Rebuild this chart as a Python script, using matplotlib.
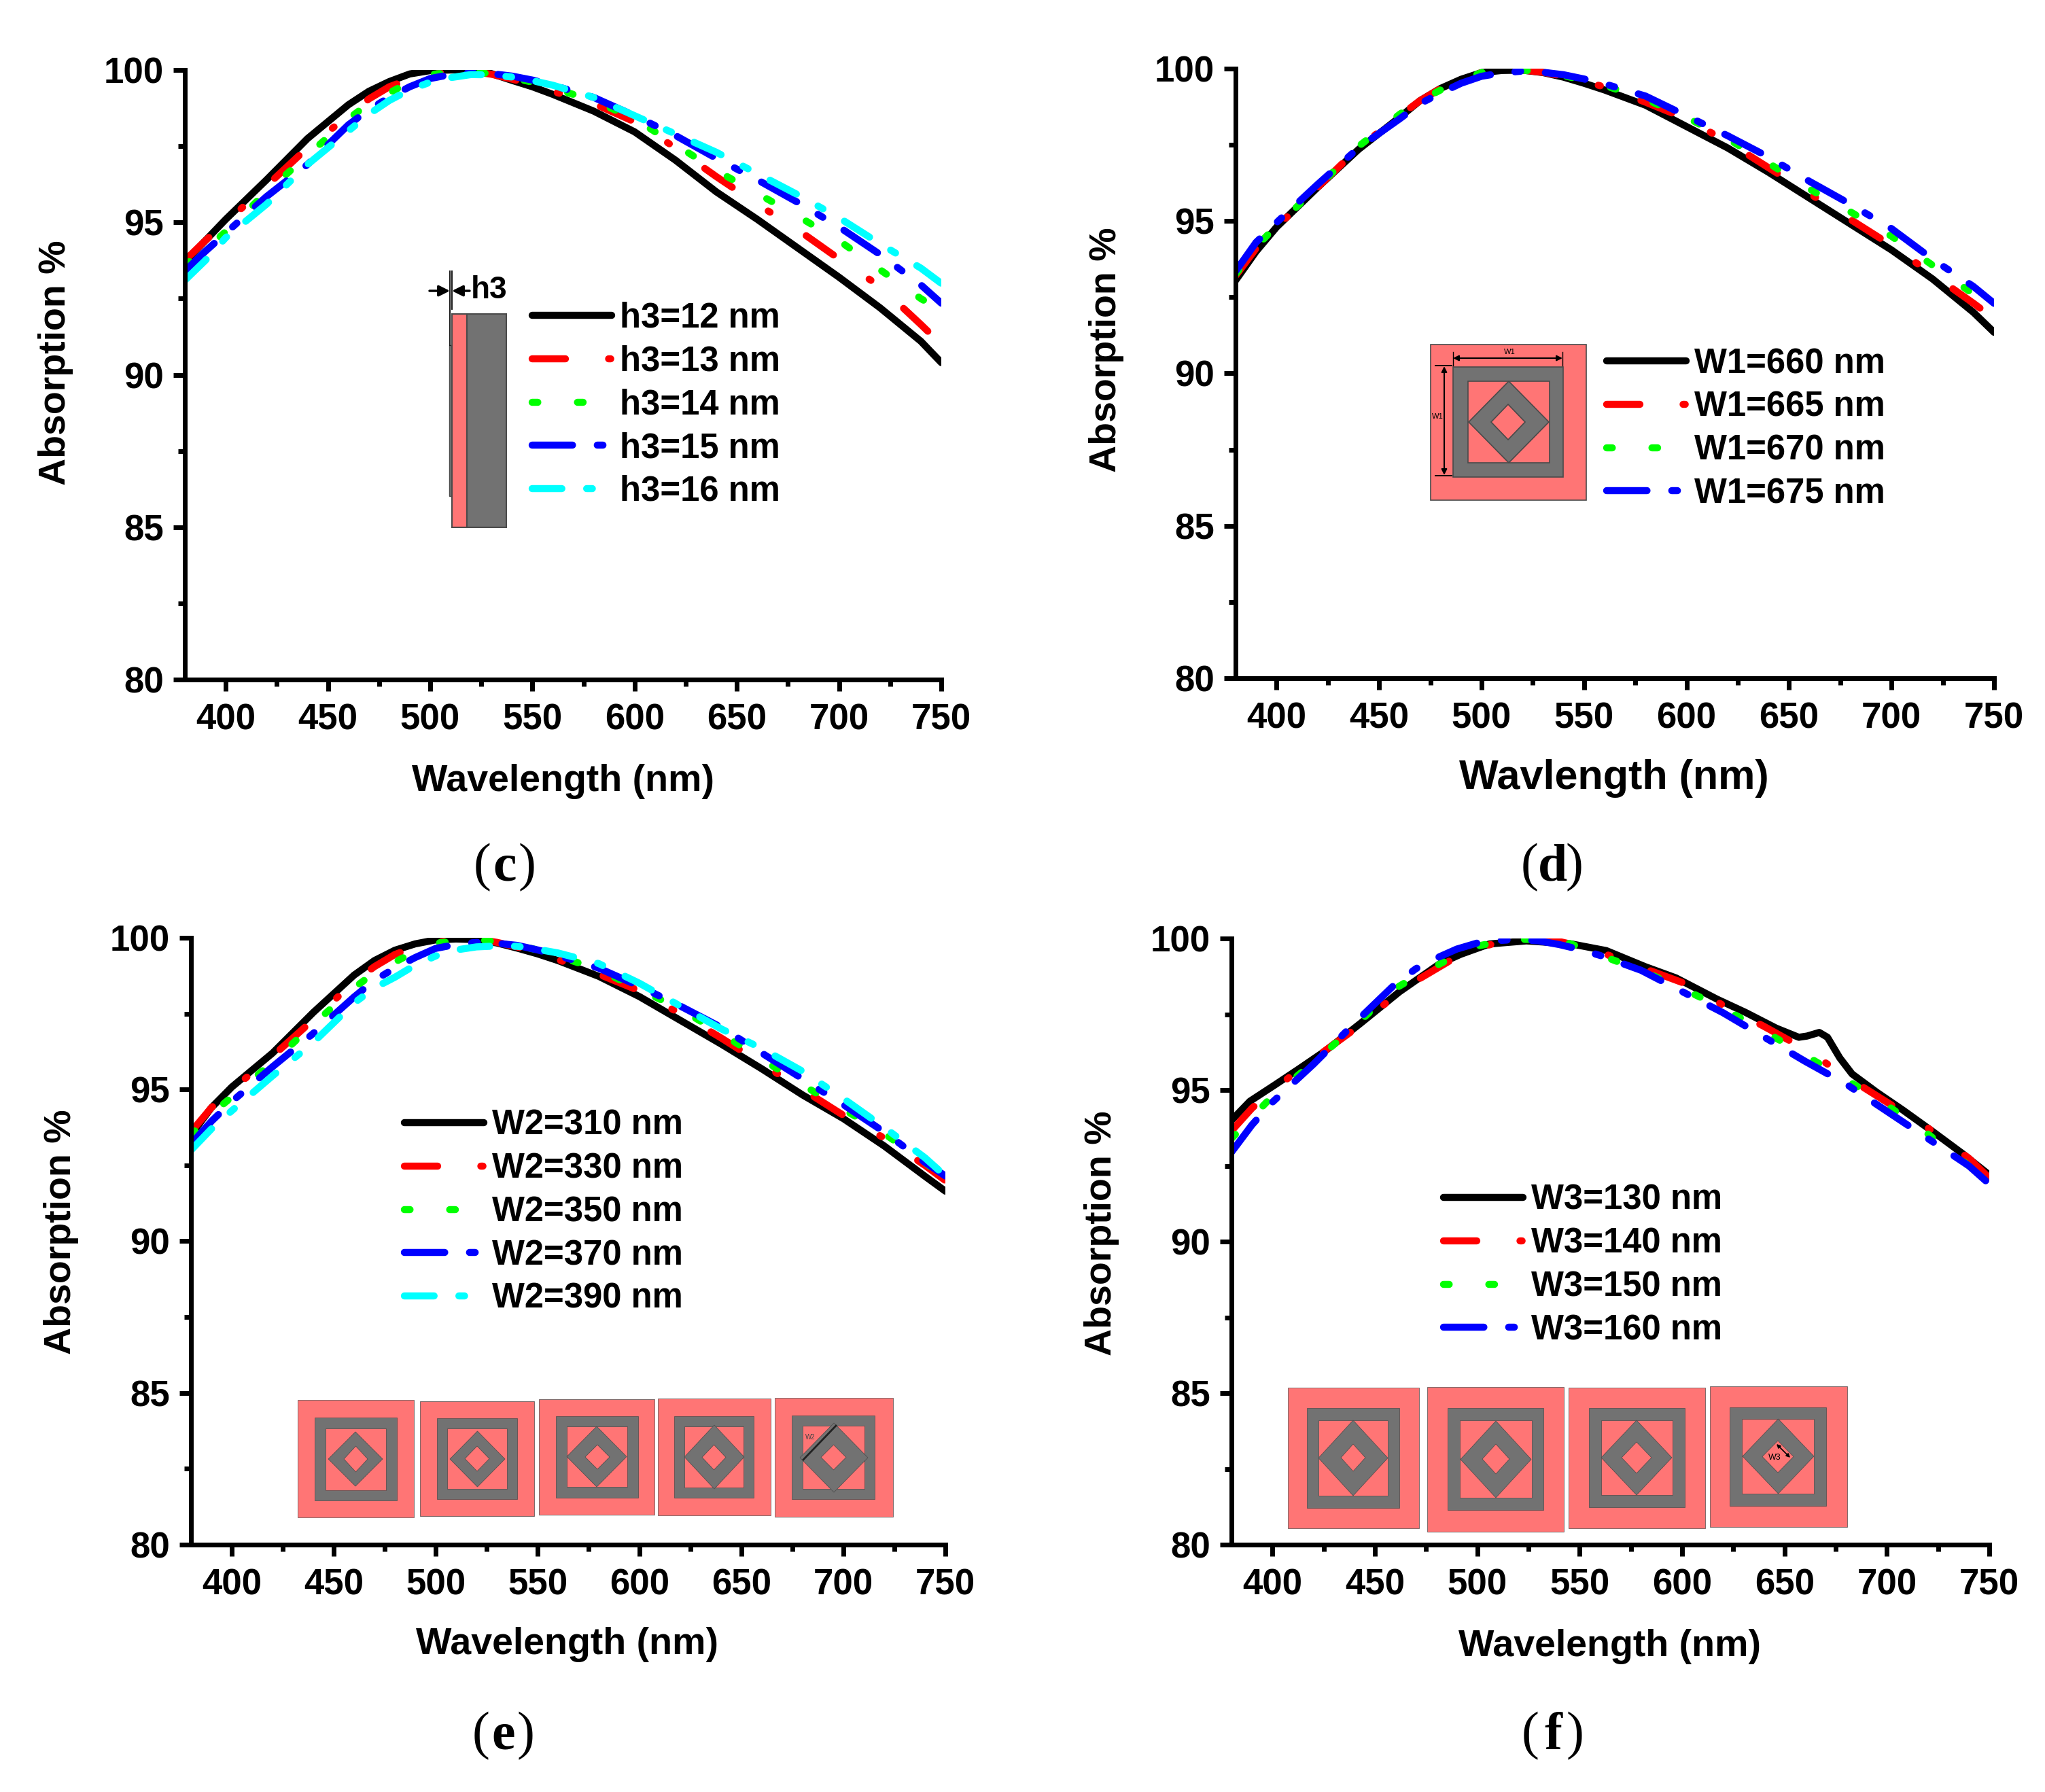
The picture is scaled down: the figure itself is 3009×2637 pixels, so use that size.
"""Absorption spectra, panels c to f"""

import matplotlib
matplotlib.use("Agg")
import matplotlib.pyplot as plt
from matplotlib.patches import Polygon, Rectangle

W, H = 3009, 2637
plt.rcParams['font.family'] = ['Liberation Sans', 'DejaVu Sans']
plt.rcParams['font.weight'] = 'bold'

SALMON = '#FF7575'
GREY = '#727272'
EDGE = '#4A4A4A'

nm = [380, 390, 400, 420, 440, 460, 470, 480, 490, 500, 510, 520, 530, 540, 550, 560, 580, 600, 620, 640, 660, 680, 700, 720, 740, 750]

h3_labels = ['h3=12 nm', 'h3=13 nm', 'h3=14 nm', 'h3=15 nm', 'h3=16 nm']
h3_12 = [93.7, 94.4, 95.1, 96.4, 97.75, 98.86, 99.3, 99.62, 99.87, 99.98, 100, 100, 99.88, 99.66, 99.45, 99.2, 98.65, 97.97, 97.04, 96.0, 95.1, 94.15, 93.2, 92.2, 91.1, 90.4]
h3_13 = [93.75, 94.4, 95.0, 96.2, 97.45, 98.5, 99.05, 99.45, 99.7, 99.87, 99.94, 99.96, 99.86, 99.7, 99.52, 99.3, 98.9, 98.3, 97.45, 96.5, 95.6, 94.75, 93.8, 92.9, 91.65, 91.0]
h3_14 = [93.6, 94.1, 94.7, 96.0, 97.2, 98.4, 98.9, 99.25, 99.6, 99.85, 99.92, 99.95, 99.87, 99.75, 99.6, 99.4, 99.0, 98.4, 97.55, 96.7, 95.95, 95.2, 94.4, 93.45, 92.5, 92.1]
h3_15 = [93.4, 94.05, 94.65, 95.85, 96.9, 98.2, 98.7, 99.1, 99.45, 99.72, 99.85, 99.92, 99.88, 99.8, 99.67, 99.5, 99.1, 98.5, 97.85, 97.1, 96.4, 95.65, 94.85, 93.95, 92.95, 92.35]
h3_16 = [93.1, 93.75, 94.5, 95.6, 96.9, 98.0, 98.55, 99.0, 99.35, 99.6, 99.75, 99.85, 99.84, 99.77, 99.65, 99.5, 99.1, 98.5, 97.9, 97.3, 96.6, 95.9, 95.15, 94.3, 93.5, 93.0]

w1_labels = ['W1=660 nm', 'W1=665 nm', 'W1=670 nm', 'W1=675 nm']
w1_660 = [93.05, 94.0, 94.8, 96.1, 97.35, 98.4, 98.95, 99.35, 99.65, 99.87, 99.94, 99.95, 99.87, 99.72, 99.52, 99.3, 98.8, 98.1, 97.4, 96.6, 95.75, 94.9, 94.05, 93.1, 92.0, 91.35]
w1_665 = [93.2, 94.1, 94.8, 96.1, 97.4, 98.45, 98.95, 99.35, 99.65, 99.87, 99.94, 99.95, 99.88, 99.75, 99.58, 99.4, 98.9, 98.35, 97.6, 96.75, 95.9, 95.05, 94.2, 93.25, 92.3, 91.8]
w1_670 = [93.25, 94.15, 94.85, 96.1, 97.45, 98.5, 98.95, 99.3, 99.62, 99.87, 99.94, 99.95, 99.89, 99.77, 99.62, 99.45, 99.0, 98.4, 97.7, 96.9, 96.05, 95.3, 94.5, 93.55, 92.6, 92.1]
w1_675 = [93.35, 94.3, 94.95, 96.2, 97.4, 98.35, 98.85, 99.2, 99.52, 99.75, 99.86, 99.92, 99.88, 99.8, 99.66, 99.5, 99.1, 98.45, 97.8, 97.1, 96.3, 95.55, 94.75, 93.75, 92.85, 92.3]

w2_labels = ['W2=310 nm', 'W2=330 nm', 'W2=350 nm', 'W2=370 nm', 'W2=390 nm']
w2_310 = [93.5, 94.4, 95.08, 96.2, 97.54, 98.77, 99.25, 99.59, 99.8, 99.93, 99.96, 99.94, 99.83, 99.66, 99.47, 99.25, 98.73, 98.06, 97.28, 96.5, 95.68, 94.82, 94.04, 93.14, 92.14, 91.65]
w2_330 = [93.6, 94.4, 95.0, 96.1, 97.3, 98.55, 99.05, 99.45, 99.7, 99.85, 99.93, 99.96, 99.85, 99.7, 99.5, 99.28, 98.8, 98.25, 97.5, 96.7, 95.85, 95.0, 94.15, 93.4, 92.5, 92.0]
w2_350 = [93.5, 94.2, 94.75, 95.9, 97.15, 98.35, 98.85, 99.2, 99.55, 99.82, 99.9, 99.95, 99.87, 99.75, 99.6, 99.4, 98.95, 98.3, 97.65, 96.85, 96.0, 95.15, 94.35, 93.55, 92.6, 92.05]
w2_370 = [93.2, 93.95, 94.6, 95.75, 96.85, 98.05, 98.6, 99.0, 99.35, 99.65, 99.78, 99.85, 99.82, 99.75, 99.6, 99.42, 99.0, 98.4, 97.75, 97.05, 96.2, 95.35, 94.5, 93.6, 92.6, 92.15]
w2_390 = [93.0, 93.7, 94.3, 95.45, 96.55, 97.85, 98.35, 98.7, 99.1, 99.4, 99.6, 99.7, 99.73, 99.72, 99.62, 99.5, 99.15, 98.5, 97.75, 97.0, 96.35, 95.6, 94.7, 93.75, 92.75, 92.15]

w3_labels = ['W3=130 nm', 'W3=140 nm', 'W3=150 nm', 'W3=160 nm']
# the 130 nm curve has its own wavelengths because of the bump near 665 nm
nm_w3_130 = [380, 389, 401, 413, 426, 443, 462, 482, 492, 506, 524, 546, 563, 582, 597, 617, 631, 646, 657, 661, 667, 671, 677, 683, 695, 708, 722, 737, 750]
w3_130 = [94.0, 94.63, 95.16, 95.7, 96.3, 97.2, 98.24, 99.18, 99.48, 99.82, 99.92, 99.82, 99.6, 99.07, 98.7, 98.0, 97.56, 97.04, 96.74, 96.78, 96.9, 96.74, 96.06, 95.53, 94.93, 94.33, 93.65, 92.9, 92.2]
w3_140 = [93.65, 94.4, 95.0, 96.02, 97.0, 98.13, 98.6, 99.0, 99.4, 99.7, 99.85, 99.93, 99.94, 99.9, 99.75, 99.55, 99.05, 98.55, 97.8, 97.1, 96.35, 95.45, 94.6, 93.75, 92.75, 92.1]
w3_150 = [93.4, 94.1, 94.8, 95.9, 97.1, 98.35, 98.75, 99.1, 99.45, 99.75, 99.88, 99.97, 99.97, 99.95, 99.72, 99.45, 98.95, 98.35, 97.7, 96.95, 96.15, 95.35, 94.5, 93.55, 92.5, 92.0]
w3_160 = [92.95, 93.85, 94.6, 95.85, 97.2, 98.5, 99.0, 99.35, 99.65, 99.85, 99.93, 99.97, 99.92, 99.8, 99.64, 99.44, 98.95, 98.25, 97.55, 96.75, 95.95, 95.2, 94.3, 93.4, 92.5, 91.9]

colors = ['black', 'red', '#00FF00', 'blue', 'cyan']
dashes = [None, (4.7, 6.1, 0.3, 6.1), (0.8, 5.6), (5.7, 3.5, 0.8, 3.5), (4.2, 3.5, 0.8, 3.5)]

fig = plt.figure(figsize=(W / 100, H / 100), dpi=100, facecolor='white')
over = fig.add_axes([0, 0, 1, 1], zorder=5)
over.set_xlim(0, W)
over.set_ylim(H, 0)
over.axis('off')
over.patch.set_alpha(0)


def panel(box, curves, labels, xlabel, xl_pos, yl_pos, leg_pos, xl_size=40):
    left, right, top, bottom = box
    ax = fig.add_axes([left / W, 1 - bottom / H, (right - left) / W, (bottom - top) / H])
    lines = []
    for i, (x, y) in enumerate(curves):
        line, = ax.plot(x, y, color=colors[i], lw=7.5, label=labels[i],
                        solid_capstyle='round', dash_capstyle='round', solid_joinstyle='round')
        if dashes[i]:
            line.set_dashes(dashes[i])
        lines.append(line)
    ax.set_xlim(380, 750)
    ax.set_ylim(80, 100)
    ax.set_xticks(range(400, 751, 50))
    ax.set_xticks(range(425, 750, 50), minor=True)
    ax.set_yticks(range(80, 101, 5))
    ax.set_yticks([82.5, 87.5, 92.5, 97.5], minor=True)
    ax.spines['top'].set_visible(False)
    ax.spines['right'].set_visible(False)
    ax.spines['left'].set_linewidth(5)
    ax.spines['bottom'].set_linewidth(5)
    ax.tick_params(which='major', length=12.5, width=5, labelsize=38)
    ax.tick_params(which='minor', length=7, width=5)
    ax.tick_params(axis='x', which='major', pad=12)
    ax.tick_params(axis='y', which='major', pad=10)
    ax.set_xlabel(xlabel, fontsize=xl_size, fontweight='bold', va='center')
    ax.set_ylabel('Absorption %', fontsize=40, fontweight='bold', va='center')
    ax.xaxis.set_label_coords(xl_pos[0] / W, 1 - xl_pos[1] / H, transform=fig.transFigure)
    ax.yaxis.set_label_coords(yl_pos[0] / W, 1 - yl_pos[1] / H, transform=fig.transFigure)
    ax.legend(handles=lines, loc='upper left', frameon=False, fontsize=36.5,
              bbox_to_anchor=(leg_pos[0] / W, 1 - leg_pos[1] / H), bbox_transform=fig.transFigure,
              borderpad=0, borderaxespad=0, handlelength=2.3, handletextpad=0.25, labelspacing=0.29)
    return ax


def cell(outer, ring, inner, dia, dia_in, blur=False):
    """One unit cell of the structure, all boxes as (x0, x1, y0, y1) in picture pixels"""
    lw = 0.5 if blur else 1.2
    for (x0, x1, y0, y1), col in [(outer, SALMON), (ring, GREY), (inner, SALMON)]:
        over.add_patch(Rectangle((x0, y0), x1 - x0, y1 - y0, fc=col, ec=EDGE, lw=lw))
    for (x0, x1, y0, y1), col in [(dia, GREY), (dia_in, SALMON)]:
        xm, ym = (x0 + x1) / 2, (y0 + y1) / 2
        over.add_patch(Polygon([(xm, y0), (x1, ym), (xm, y1), (x0, ym)], fc=col, ec=EDGE, lw=lw))


def arrow(p0, p1, style='<|-|>', size=12, lw=1.5):
    over.annotate('', xy=p1, xytext=p0, arrowprops=dict(arrowstyle=style, color='black', lw=lw,
                                                        mutation_scale=size, shrinkA=0, shrinkB=0))


def tag(x, y, letter):
    kw = dict(family='Liberation Serif', fontsize=56, va='center', fontweight='normal')
    over.text(x - 20, y, '(', ha='right', **kw)
    over.text(x, y, letter, ha='center', family='Liberation Serif', fontsize=56, va='center', fontweight='bold')
    over.text(x + 20, y, ')', ha='left', **kw)


panel((272, 1385, 103, 1000),
      [(nm, h3_12), (nm, h3_13), (nm, h3_14), (nm, h3_15), (nm, h3_16)],
      h3_labels, 'Wavelength (nm)', (828, 1150), (82, 534), (783, 444))
panel((1818, 2934, 101, 998),
      [(nm, w1_660), (nm, w1_665), (nm, w1_670), (nm, w1_675)],
      w1_labels, 'Wavlength (nm)', (2375, 1146), (1628, 515), (2364, 511), xl_size=44)
panel((281, 1391, 1380, 2273),
      [(nm, w2_310), (nm, w2_330), (nm, w2_350), (nm, w2_370), (nm, w2_390)],
      w2_labels, 'Wavelength (nm)', (834, 2420), (90, 1813), (595, 1632))
panel((1812, 2927, 1381, 2273),
      [(nm_w3_130, w3_130), (nm, w3_140), (nm, w3_150), (nm, w3_160)],
      w3_labels, 'Wavelength (nm)', (2369, 2423), (1621, 1815), (2124, 1742))

tag(743, 1277, 'c')
tag(2284, 1277, 'd')
tag(741, 2555, 'e')
tag(2285, 2555, 'f')

# h3 side view
over.add_patch(Rectangle((661, 508), 4, 222, fc=GREY, ec=EDGE, lw=1))
over.add_patch(Rectangle((665, 462), 22, 314, fc=SALMON, ec=EDGE, lw=1.5))
over.add_patch(Rectangle((687, 462), 58, 314, fc=GREY, ec=EDGE, lw=1.5))
over.plot([662, 662], [399, 508], color='black', lw=1.3)
over.plot([665, 665], [399, 455], color='black', lw=1.3)
arrow((632, 428), (662, 428), '-|>', 24, 2.5)
arrow((691, 428), (665, 428), '-|>', 24, 2.5)
over.text(720, 427, 'h3', fontsize=33, ha='center', va='center')

# W1 top view with its dimension arrows
cell((2105, 2334, 507, 736), (2138, 2300, 540, 702), (2160, 2280, 561, 681),
     (2161, 2279, 561, 681), (2194, 2244, 595, 647))
arrow((2138, 527), (2299, 527))
over.plot([2138, 2138], [518, 538], color='black', lw=1)
over.plot([2299, 2299], [518, 538], color='black', lw=1)
over.plot([2112, 2136], [538, 538], color='black', lw=1.3)
over.plot([2112, 2136], [700, 700], color='black', lw=1.3)
arrow((2125, 539), (2125, 699))
over.text(2221, 518, 'W1', fontsize=8, ha='center', va='center', fontweight='normal')
over.text(2115, 613, 'W1', fontsize=8, ha='center', va='center', fontweight='normal')

# W2 row
cell((438, 609, 2060, 2233), (463, 584, 2086, 2208), (479, 568, 2102, 2193), (483, 563, 2107, 2187), (506, 541, 2128, 2166), True)
cell((618, 786, 2062, 2231), (643, 761, 2087, 2206), (658, 746, 2102, 2191), (662, 743, 2106, 2188), (684, 720, 2128, 2165), True)
cell((793, 963, 2059, 2229), (818, 939, 2084, 2204), (834, 923, 2099, 2188), (834, 922, 2099, 2188), (861, 897, 2126, 2162), True)
cell((968, 1134, 2058, 2230), (992, 1109, 2084, 2204), (1007, 1094, 2099, 2189), (1007, 1095, 2097, 2191), (1033, 1068, 2126, 2163), True)
cell((1140, 1314, 2057, 2232), (1165, 1287, 2083, 2206), (1181, 1272, 2098, 2191), (1177, 1277, 2094, 2196), (1208, 1245, 2126, 2163), True)
over.plot([1230, 1182], [2098, 2148], color='#222222', lw=2)
over.text(1192, 2115, 'W2', fontsize=7, ha='center', va='center', fontweight='normal', color='#444444')

# W3 row
cell((1895, 2088, 2042, 2249), (1923, 2059, 2072, 2219), (1940, 2042, 2090, 2201), (1940, 2042, 2090, 2201), (1973, 2009, 2125, 2165), True)
cell((2100, 2301, 2041, 2254), (2130, 2271, 2072, 2222), (2148, 2254, 2090, 2204), (2149, 2253, 2091, 2204), (2181, 2221, 2125, 2169), True)
cell((2308, 2509, 2042, 2249), (2338, 2479, 2072, 2218), (2356, 2461, 2090, 2200), (2356, 2460, 2090, 2200), (2386, 2430, 2122, 2168), True)
cell((2516, 2718, 2040, 2247), (2545, 2687, 2071, 2216), (2563, 2669, 2088, 2198), (2564, 2669, 2088, 2198), (2593, 2639, 2120, 2167), True)
arrow((2614, 2125), (2634, 2145), '<|-|>', 8, 1.2)
over.text(2611, 2145, 'W3', fontsize=9, ha='center', va='center', fontweight='normal')

fig.savefig('out.png', dpi=100)
